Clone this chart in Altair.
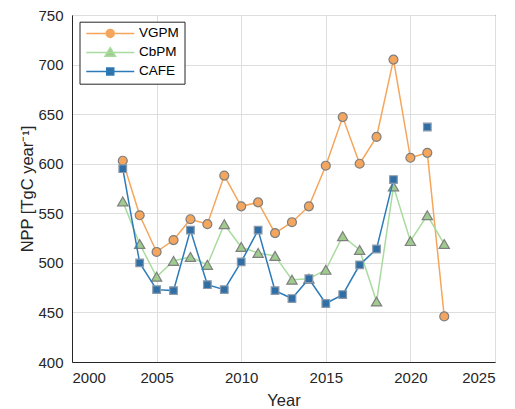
import altair as alt
import pandas as pd

# Annual net primary production for three algorithms
years = list(range(2003, 2023))
vgpm = [603, 548, 511, 523, 544, 539, 588, 557, 561, 530,
        541, 557, 598, 647, 600, 627, 705, 606, 611, 446]
cbpm = [562, 519, 486, 502, 506, 498, 539, 516, 510, 507,
        483, 484, 493, 527, 513, 461, 577, 522, 548, 519]
cafe = [595, 500, 473, 472, 533, 478, 473, 501, 533, 472,
        464, 484, 459, 468, 498, 514, 584, None, 637, None]

series_names = ["VGPM", "CbPM", "CAFE"]
series_values = [vgpm, cbpm, cafe]

line_colors = ["#F5A65B", "#A9DB9F", "#2C7BB9"]
marker_fills = ["#F4A65E", "#9FCB8F", "#2F6FA5"]
marker_edges = ["#7F7F7F", "#7F7F7F", "#8A9AAA"]
marker_shapes = ["circle", "triangle-up", "square"]
marker_sizes = [80, 105, 58]

# Legend glyphs: a short line with the marker in the middle
legend_paths = [
    "M-1,0H8.6M4.6,0A0.8,0.8,0,1,1,3.0,0A0.8,0.8,0,1,1,4.6,0Z",
    "M-1,0H8.6M3.8,-0.95L4.85,0.75L2.75,0.75Z",
    "M-1,0H8.6M3.1,-0.7H4.5V0.7H3.1Z",
]

frames = []
for name, vals in zip(series_names, series_values):
    frames.append(pd.DataFrame({"Year": years, "NPP": vals, "series": name}))
df = pd.concat(frames, ignore_index=True)

x_enc = alt.X(
    "Year:Q",
    scale=alt.Scale(domain=[2000, 2025], nice=False),
    axis=alt.Axis(values=[2000, 2005, 2010, 2015, 2020, 2025], format="d",
                  title="Year"),
)
y_enc = alt.Y(
    "NPP:Q",
    scale=alt.Scale(domain=[400, 750], nice=False, zero=False),
    axis=alt.Axis(values=[400, 450, 500, 550, 600, 650, 700, 750],
                  title="NPP [TgC year⁻¹]"),
)

layers = []
for i, name in enumerate(series_names):
    sub = alt.Chart(df).transform_filter(alt.datum.series == name)
    layers.append(
        sub.mark_line(color=line_colors[i], strokeWidth=1.5).encode(x=x_enc, y=y_enc)
    )
    layers.append(
        sub.transform_filter("isValid(datum.NPP)").mark_point(
            shape=marker_shapes[i], filled=True, fill=marker_fills[i],
            stroke=marker_edges[i], strokeWidth=1.2, size=marker_sizes[i],
            opacity=1,
        ).encode(x=x_enc, y=y_enc)
    )

# Legend-only layer (no visible marks)
legend_layer = (
    alt.Chart(df)
    .transform_filter("false")
    .mark_point(filled=True, opacity=1, strokeWidth=1.5)
    .encode(
        x=x_enc,
        y=y_enc,
        fill=alt.Fill("series:N", scale=alt.Scale(domain=series_names, range=marker_fills),
                      legend=alt.Legend(title=None)),
        stroke=alt.Stroke("series:N", scale=alt.Scale(domain=series_names, range=line_colors),
                          legend=alt.Legend(title=None)),
        shape=alt.Shape("series:N", scale=alt.Scale(domain=series_names, range=legend_paths),
                        legend=alt.Legend(title=None)),
    )
)
layers.append(legend_layer)

chart = (
    alt.layer(*layers)
    .properties(
        width=423,
        height=347,
        padding={"left": 72, "top": 15, "right": 20, "bottom": 47},
        autosize="none",
        background="white",
    )
    .configure_view(stroke="#262626", strokeWidth=1)
    .configure_axis(
        labelFont="Liberation Sans",
        titleFont="Liberation Sans",
        labelFontSize=15,
        titleFontSize=16.5,
        labelColor="#262626",
        titleColor="#262626",
        titleFontWeight="normal",
        gridColor="#DEDEDE",
        gridWidth=1,
        domainColor="#262626",
        domainWidth=1,
        ticks=False,
    )
    .configure_axisX(labelPadding=8, titlePadding=7)
    .configure_axisY(labelPadding=9, titlePadding=2)
    .configure_legend(
        orient="none",
        legendX=7.5,
        legendY=6.7,
        padding=5,
        strokeColor="#262626",
        fillColor="white",
        cornerRadius=0,
        labelFont="Liberation Sans",
        labelFontSize=13.5,
        labelColor="#000000",
        labelOffset=41,
        symbolSize=100,
        symbolStrokeWidth=1.5,
        rowPadding=4,
    )
)

chart.save("out.html", embed_options={"renderer": "svg", "actions": False})
